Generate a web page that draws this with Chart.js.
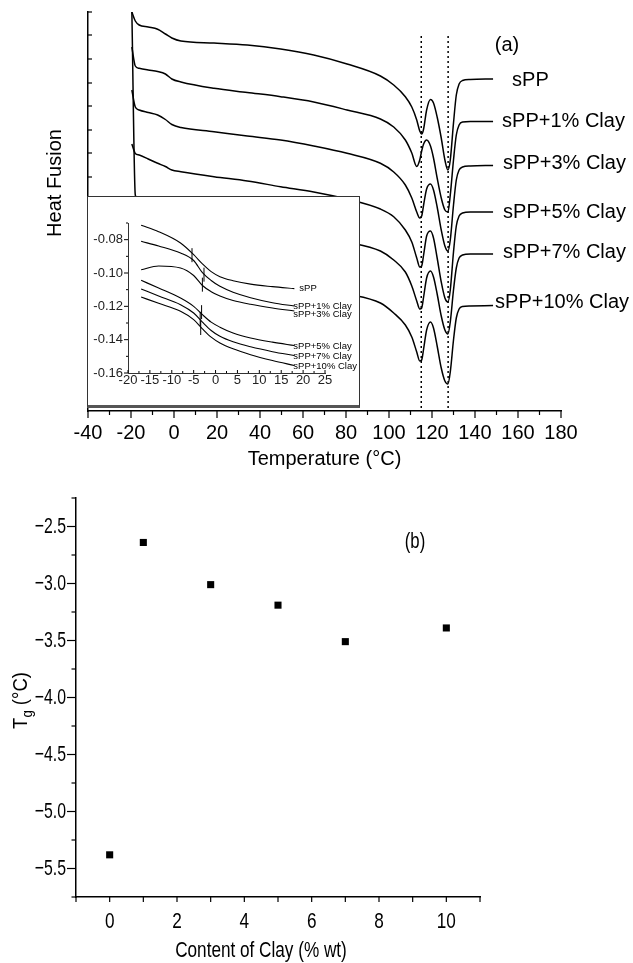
<!DOCTYPE html>
<html>
<head>
<meta charset="utf-8">
<script src="https://cdn.jsdelivr.net/npm/chart.js@4.4.1/dist/chart.umd.min.js"></script>
<style>
  html, body { margin: 0; padding: 0; background: #fff; }
  #page { position: relative; width: 633px; height: 963px; overflow: hidden; }
  canvas { display: block; }
  #dsc { position: absolute; left: 0; top: 0; }
  #insetBox { position: absolute; left: 87px; top: 196px; width: 271px; height: 208px;
              border: 1px solid #333; border-bottom: 3px solid #555; background: #fff; }
  #tg { position: absolute; left: 0; top: 475px; }
</style>
</head>
<body>
<div id="page">
  <canvas id="dsc" width="633" height="475"></canvas>
  <div id="insetBox"><canvas id="inset" width="271" height="208"></canvas></div>
  <canvas id="tg" width="633" height="488"></canvas>
</div>
<script>
// samples and glass transition (panel b)
const samples = ['sPP', 'sPP+1% Clay', 'sPP+3% Clay', 'sPP+5% Clay', 'sPP+7% Clay', 'sPP+10% Clay'];
const clayContent = [0, 1, 3, 5, 7, 10];
const glassTemp = [-5.38, -2.64, -3.01, -3.19, -3.51, -3.39];

// DSC traces (panel a), heat flow in arbitrary units, curves stacked
const temps = [-19.6, -18.0, -16.2, -12, -7.6, -4, -1, 3.2, 18.6, 34.1, 49.6, 65.0, 80.5, 96.0,
  102.2, 107.6, 110.6, 112.9, 114.3, 115.2, 116.1, 117.5, 119.3, 120.7, 122.4, 124.3, 126.0,
  127.4, 128.5, 130.0, 131.3, 132.6, 134.2, 137.8, 148.4];
const flowSPP = [399, 390, 386, 384, 381.7, 377, 373, 370, 368, 366, 362, 356, 347, 335, 326, 314.3,
  304, 291, 280, 277, 282, 301, 311.5, 308, 294, 273, 251, 241, 251, 288, 316, 327, 330.5, 331.5, 332];
const flow1 = [364, 345, 342.7, 341, 339.5, 337, 332, 329, 322.7, 318.5, 314.3, 309, 301, 292, 284, 271,
  258, 244.5, 251, 260, 267, 271, 265, 253, 233, 213, 201, 199, 216, 251, 276, 286, 289, 289.5, 289.5];
const flow3 = [321, 304, 301, 298.5, 296, 291.5, 286.5, 283.5, 279.3, 275, 271, 265, 257.7, 247.7, 239, 226,
  213, 199, 193, 195, 206, 222, 227, 221, 204, 181, 165, 160, 171, 206, 231, 241, 244, 245, 245.5];
const flow5 = [267, 257.5, 256, 252, 247.7, 244.5, 241, 239.3, 234.3, 230, 224.3, 219, 212, 202, 194.3, 181,
  169, 153, 144, 145, 156, 175, 180, 173, 153, 129, 113, 109, 121, 159, 185, 195, 198, 199, 199];
const flow7 = [399, 216, 209, 206, 203, 199, 196, 194, 189, 185, 180, 175, 169, 160, 151, 139,
  125, 110, 102, 103, 114, 133, 140, 134, 117, 95, 81, 77, 89, 121, 143, 153, 156, 157, 157];
const flow10 = [171, 161, 156, 153, 150, 146, 143, 141, 137, 133, 128, 123, 117, 108, 98, 86,
  74, 59, 50, 51, 62, 81, 89, 83, 65, 43, 30, 27, 39, 71, 93, 102, 104.5, 105, 105.5];
const meltPeaks = [115, 127.5];
const meltLineSpan = [3, 375];
const heatTicks = [399, 376, 352, 328, 305, 281, 258, 234, 210];

// inset: glass transition region
const insetTemps = [-17, -13, -8, -5, -3, -1, 1, 4, 8, 13, 18];
const insetSPP = [-0.0714, -0.0752, -0.0820, -0.0890, -0.0945, -0.0992, -0.1022, -0.1046, -0.1067, -0.1082, -0.1094];
const inset1 = [-0.0810, -0.0838, -0.0880, -0.0925, -0.0998, -0.1045, -0.1080, -0.1115, -0.1148, -0.1178, -0.1198];
const inset3 = [-0.0980, -0.0958, -0.0970, -0.1015, -0.1075, -0.1112, -0.1138, -0.1165, -0.1188, -0.1210, -0.1228];
const inset5 = [-0.1044, -0.1090, -0.1150, -0.1200, -0.1250, -0.1295, -0.1325, -0.1360, -0.1390, -0.1415, -0.1435];
const inset7 = [-0.1096, -0.1138, -0.1190, -0.1240, -0.1295, -0.1345, -0.1380, -0.1413, -0.1443, -0.1472, -0.1495];
const inset10 = [-0.1144, -0.1182, -0.1230, -0.1280, -0.1335, -0.1385, -0.1420, -0.1455, -0.1490, -0.1525, -0.1555];
const tgMarkCenters = [-0.0893, -0.1010, -0.1070, -0.1235, -0.1275, -0.1330];
const tgMarkHalf = 0.0042;

const SANS = "'Liberation Sans', Arial, sans-serif";

// label nudges (px) for the curve names
const dscLabelShift = [[19, 1], [9, -0.5], [10, -2.5], [10, 0], [10, -2], [2, -3.5]];
const insetLabelShift = [[5, 0], [-1, 0.5], [-1, 3], [-1, 0.5], [-1, 0.5], [-1, 0.5]];

Chart.defaults.animation = false;
Chart.defaults.events = [];
Chart.defaults.color = '#000';

function toPoints(xs, ys) {
  return xs.map((x, i) => ({ x, y: ys[i] }));
}

// panel (b) uses a condensed face; no narrow font is installed, so squeeze horizontally
function narrowText(ctx, text, x, y, size, sx, align) {
  ctx.save();
  ctx.translate(x, y);
  ctx.scale(sx, 1);
  ctx.font = size + 'px ' + SANS;
  ctx.textAlign = align;
  ctx.fillText(text, 0, 0);
  ctx.restore();
}

// draws major/minor tick marks off the axis lines
function tickMarks(spec) {
  return {
    id: 'tickMarks',
    afterDraw(chart) {
      const ctx = chart.ctx;
      ctx.save();
      ctx.strokeStyle = '#000';
      for (const id in spec) {
        const s = chart.scales[id], c = spec[id];
        ctx.lineWidth = c.width || 1;
        s.ticks.forEach(t => {
          let isMajor = true;
          if (c.major) {
            const r = t.value / c.major;
            isMajor = Math.abs(r - Math.round(r)) < 1e-6;
          }
          const len = isMajor ? c.majorLen : c.minorLen;
          const p = s.getPixelForValue(t.value);
          ctx.beginPath();
          if (s.isHorizontal()) {
            ctx.moveTo(p, s.top);
            ctx.lineTo(p, s.top + c.dir * len);
          } else {
            ctx.moveTo(s.right, p);
            ctx.lineTo(s.right + c.dir * len, p);
          }
          ctx.stroke();
        });
      }
      ctx.restore();
    }
  };
}

function curveLabels(fontSize, shifts) {
  return {
    id: 'curveLabels',
    afterDraw(chart) {
      const ctx = chart.ctx;
      ctx.save();
      ctx.fillStyle = '#000';
      ctx.font = fontSize + 'px ' + SANS;
      ctx.textAlign = 'left';
      ctx.textBaseline = 'middle';
      samples.forEach((name, i) => {
        const pts = chart.getDatasetMeta(i).data;
        const end = pts[pts.length - 1];
        ctx.fillText(name, end.x + shifts[i][0], end.y + shifts[i][1]);
      });
      ctx.restore();
    }
  };
}

// ---------- panel (a) ----------
const curveSets = [flowSPP, flow1, flow3, flow5, flow7, flow10];
const dscDatasets = curveSets.map((ys, i) => ({
  label: samples[i],
  data: toPoints(temps, ys),
  borderColor: '#000',
  borderWidth: 1.5,
  pointRadius: 0,
  cubicInterpolationMode: 'monotone',
  fill: false
}));
meltPeaks.forEach(t => {
  dscDatasets.push({
    label: 'Tm ' + t,
    data: [{ x: t, y: meltLineSpan[0] }, { x: t, y: meltLineSpan[1] }],
    borderColor: '#000',
    borderWidth: 1.5,
    borderDash: [2, 3],
    pointRadius: 0,
    tension: 0
  });
});

const dscText = {
  id: 'dscText',
  afterDraw(chart) {
    const ctx = chart.ctx;
    const area = chart.chartArea;
    ctx.save();
    ctx.fillStyle = '#000';
    ctx.font = '20px ' + SANS;
    ctx.textAlign = 'center';
    ctx.textBaseline = 'middle';
    ctx.fillText('(a)', 507, 45);
    ctx.fillText('Temperature (\u00b0C)', (area.left + area.right) / 2, 459);
    ctx.translate(55, 183);
    ctx.rotate(-Math.PI / 2);
    ctx.fillText('Heat Fusion', 0, 0);
    ctx.restore();
  }
};

new Chart(document.getElementById('dsc'), {
  type: 'line',
  data: { datasets: dscDatasets },
  options: {
    responsive: false,
    layout: { padding: { left: 0, top: 12, right: 72, bottom: 0 } },
    plugins: { legend: { display: false }, tooltip: { enabled: false } },
    scales: {
      x: {
        type: 'linear', min: -40, max: 180,
        grid: { display: false, drawTicks: false },
        border: { display: true, color: '#000', width: 1.5 },
        ticks: {
          stepSize: 10, autoSkip: false, maxRotation: 0, padding: 10,
          font: { family: SANS, size: 20 }, color: '#000',
          callback: v => (v % 20 === 0 ? String(v) : '')
        },
        afterFit: s => { s.height = 64; }
      },
      y: {
        min: 0, max: 399,
        grid: { display: false, drawTicks: false },
        border: { display: true, color: '#000', width: 1.5 },
        ticks: { display: false },
        afterBuildTicks: s => { s.ticks = heatTicks.map(v => ({ value: v })); },
        afterFit: s => { s.width = 88; }
      }
    }
  },
  plugins: [
    tickMarks({ x: { major: 20, majorLen: 7, minorLen: 4, dir: 1, width: 1.2 },
                y: { majorLen: 4, minorLen: 4, dir: 1, width: 1.2 } }),
    curveLabels(20, dscLabelShift),
    dscText
  ]
});

// ---------- inset ----------
const insetSets = [insetSPP, inset1, inset3, inset5, inset7, inset10];
const insetDatasets = insetSets.map((ys, i) => ({
  label: samples[i],
  data: toPoints(insetTemps, ys),
  borderColor: '#000',
  borderWidth: 1.1,
  pointRadius: 0,
  cubicInterpolationMode: 'monotone',
  fill: false
}));
glassTemp.forEach((tg, i) => {
  insetDatasets.push({
    label: 'Tg ' + samples[i],
    data: [{ x: tg, y: tgMarkCenters[i] - tgMarkHalf }, { x: tg, y: tgMarkCenters[i] + tgMarkHalf }],
    borderColor: '#000',
    borderWidth: 1,
    pointRadius: 0,
    tension: 0
  });
});

new Chart(document.getElementById('inset'), {
  type: 'line',
  data: { datasets: insetDatasets },
  options: {
    responsive: false,
    layout: { padding: { left: 0, top: 26, right: 34, bottom: 0 } },
    plugins: { legend: { display: false }, tooltip: { enabled: false } },
    scales: {
      x: {
        type: 'linear', min: -20, max: 25,
        grid: { display: false, drawTicks: false },
        border: { display: true, color: '#333', width: 1 },
        ticks: {
          stepSize: 2.5, autoSkip: false, maxRotation: 0, padding: 0,
          font: { family: SANS, size: 13 }, color: '#222',
          callback: v => (v % 5 === 0 ? String(v) : '')
        },
        afterFit: s => { s.height = 32; }
      },
      y: {
        min: -0.16, max: -0.07,
        grid: { display: false, drawTicks: false },
        border: { display: true, color: '#333', width: 1 },
        ticks: {
          stepSize: 0.01, autoSkip: false, padding: 5,
          font: { family: SANS, size: 13 }, color: '#222',
          callback: v => (Math.round(v * 100) % 2 === 0 ? v.toFixed(2) : '')
        },
        afterFit: s => { s.width = 40; }
      }
    }
  },
  plugins: [
    tickMarks({ x: { major: 5, majorLen: 3, minorLen: 2, dir: -1 },
                y: { major: 0.02, majorLen: 4, minorLen: 2, dir: -1 } }),
    curveLabels(9.5, insetLabelShift)
  ]
});

// ---------- panel (b) ----------
const tgText = {
  id: 'tgText',
  afterDraw(chart) {
    const ctx = chart.ctx;
    const xs = chart.scales.x, ys = chart.scales.y;
    ctx.save();
    ctx.fillStyle = '#000';
    ctx.textBaseline = 'middle';
    // tick labels
    ys.ticks.forEach(t => {
      const r = t.value * 2;
      if (Math.abs(r - Math.round(r)) > 1e-6) return;
      narrowText(ctx, '\u2212' + Math.abs(t.value).toFixed(1), ys.right - 10, ys.getPixelForValue(t.value), 22, 0.72, 'right');
    });
    xs.ticks.forEach(t => {
      if (t.value < 0 || t.value % 2 !== 0) return;
      narrowText(ctx, String(t.value), xs.getPixelForValue(t.value), xs.top + 24.5, 22, 0.78, 'center');
    });
    narrowText(ctx, 'Content of Clay (% wt)', 261, 476, 22, 0.78, 'center');
    narrowText(ctx, '(b)', 415, 67, 22, 0.76, 'center');
    // rotated y title with subscript g
    ctx.translate(27, 225.5);
    ctx.rotate(-Math.PI / 2);
    ctx.textBaseline = 'alphabetic';
    const big = '21px ' + SANS, small = '15px ' + SANS, sx = 0.88;
    ctx.scale(sx, 1);
    ctx.textAlign = 'left';
    ctx.font = big; const wT = ctx.measureText('T').width;
    ctx.font = small; const wg = ctx.measureText('g').width;
    ctx.font = big; const wRest = ctx.measureText(' (\u00b0C)').width;
    const x0 = -(wT + wg + wRest) / 2;
    ctx.fillText('T', x0, 0);
    ctx.font = small; ctx.fillText('g', x0 + wT, 5);
    ctx.font = big; ctx.fillText(' (\u00b0C)', x0 + wT + wg, 0);
    ctx.restore();
  }
};

new Chart(document.getElementById('tg'), {
  type: 'scatter',
  data: {
    datasets: [{
      label: 'Tg',
      data: toPoints(clayContent, glassTemp),
      pointStyle: 'rect',
      pointRadius: 5,
      backgroundColor: '#000',
      borderColor: '#000',
      borderWidth: 0
    }]
  },
  options: {
    responsive: false,
    layout: { padding: { left: 0, top: 23, right: 153, bottom: 0 } },
    plugins: { legend: { display: false }, tooltip: { enabled: false } },
    scales: {
      x: {
        type: 'linear', min: -1, max: 11,
        grid: { display: false, drawTicks: false },
        border: { display: true, color: '#000', width: 1.5 },
        ticks: { stepSize: 1, autoSkip: false, maxRotation: 0, display: false },
        afterFit: s => { s.height = 66; }
      },
      y: {
        min: -5.75, max: -2.25,
        grid: { display: false, drawTicks: false },
        border: { display: true, color: '#000', width: 1.5 },
        ticks: { stepSize: 0.25, autoSkip: false, display: false },
        afterFit: s => { s.width = 76; }
      }
    }
  },
  plugins: [
    tickMarks({ x: { major: 2, majorLen: 5, minorLen: 5, dir: 1, width: 1.2 },
                y: { major: 0.5, majorLen: 9, minorLen: 4.5, dir: -1, width: 1.2 } }),
    tgText
  ]
});
</script>
</body>
</html>
